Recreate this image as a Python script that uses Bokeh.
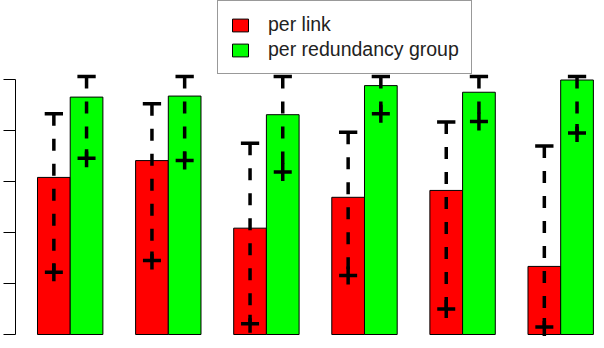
from bokeh.plotting import figure
from bokeh.models import Range1d, FixedTicker, Legend, LegendItem, CustomJSTickFormatter
from bokeh.embed import file_html
from bokeh.resources import INLINE

# ---- data ----
groups = [1, 2, 3, 4, 5, 6]
series = ["per link", "per redundancy group"]
per_link = [0.616, 0.682, 0.417, 0.538, 0.565, 0.267]
per_group = [0.931, 0.935, 0.862, 0.976, 0.950, 0.998]
per_link_low = [0.244, 0.290, 0.042, 0.231, 0.100, 0.029]
per_link_high = [0.866, 0.905, 0.750, 0.793, 0.833, 0.739]
per_group_low = [0.691, 0.682, 0.637, 0.866, 0.835, 0.790]
per_group_high = [1.012, 1.012, 1.012, 1.012, 1.012, 1.012]
y_ticks = [0.0, 0.2, 0.4, 0.6, 0.8, 1.0]

# R barplot(beside=TRUE) positions: each group = 2 bars of width 1 + 1 space
red_x = [3 * g - 1.5 for g in groups]
green_x = [3 * g - 0.5 for g in groups]

p = figure(width=604, height=348, output_backend="svg", toolbar_location=None,
           x_range=Range1d(0.327, 18.34), y_range=Range1d(-0.0549, 1.3098),
           x_axis_location=None, min_border_left=15, min_border_right=0,
           min_border_top=0, min_border_bottom=0, outline_line_color=None,
           background_fill_color="white", border_fill_color="white")
p.xgrid.visible = False
p.ygrid.visible = False

ax = p.yaxis[0]
ax.bounds = (0, 1)
ax.ticker = FixedTicker(ticks=y_ticks, minor_ticks=[])
ax.formatter = CustomJSTickFormatter(code="return ''")
ax.major_label_standoff = 0
ax.major_tick_out = 12
ax.major_tick_in = 0
ax.minor_tick_out = 0
ax.minor_tick_in = 0
ax.axis_line_color = "black"
ax.major_tick_line_color = "black"
ax.axis_line_width = 1
ax.major_tick_line_width = 1

r_red = p.vbar(x=red_x, top=per_link, bottom=0, width=1.0,
               fill_color="#FF0000", line_color="black", line_width=1)
r_green = p.vbar(x=green_x, top=per_group, bottom=0, width=1.0,
                 fill_color="#00FF00", line_color="black", line_width=1)

for xs, lo, hi in [(red_x, per_link_low, per_link_high),
                   (green_x, per_group_low, per_group_high)]:
    p.segment(x0=xs, y0=hi, x1=xs, y1=lo, line_color="black",
              line_width=3.5, line_dash="12 13", line_cap="butt")
    p.segment(x0=[x - 0.28 for x in xs], y0=hi, x1=[x + 0.28 for x in xs], y1=hi,
              line_color="black", line_width=3.5)
    p.scatter(x=xs, y=lo, marker="cross", size=18, line_color="black", line_width=3.5)

legend = Legend(items=[LegendItem(label=series[0], renderers=[r_red]),
                       LegendItem(label=series[1], renderers=[r_green])],
                location=(202, 274), orientation="vertical",
                padding=12, spacing=2, margin=0,
                label_height=23, glyph_width=20, glyph_height=16, label_standoff=18,
                label_text_font="Liberation Sans", label_text_font_size="19.5px",
                label_text_color="#222222",
                border_line_color="#333333", border_line_width=1.5,
                background_fill_color="white", background_fill_alpha=1.0)
p.add_layout(legend)

open("out.html", "w").write(file_html(p, INLINE))
